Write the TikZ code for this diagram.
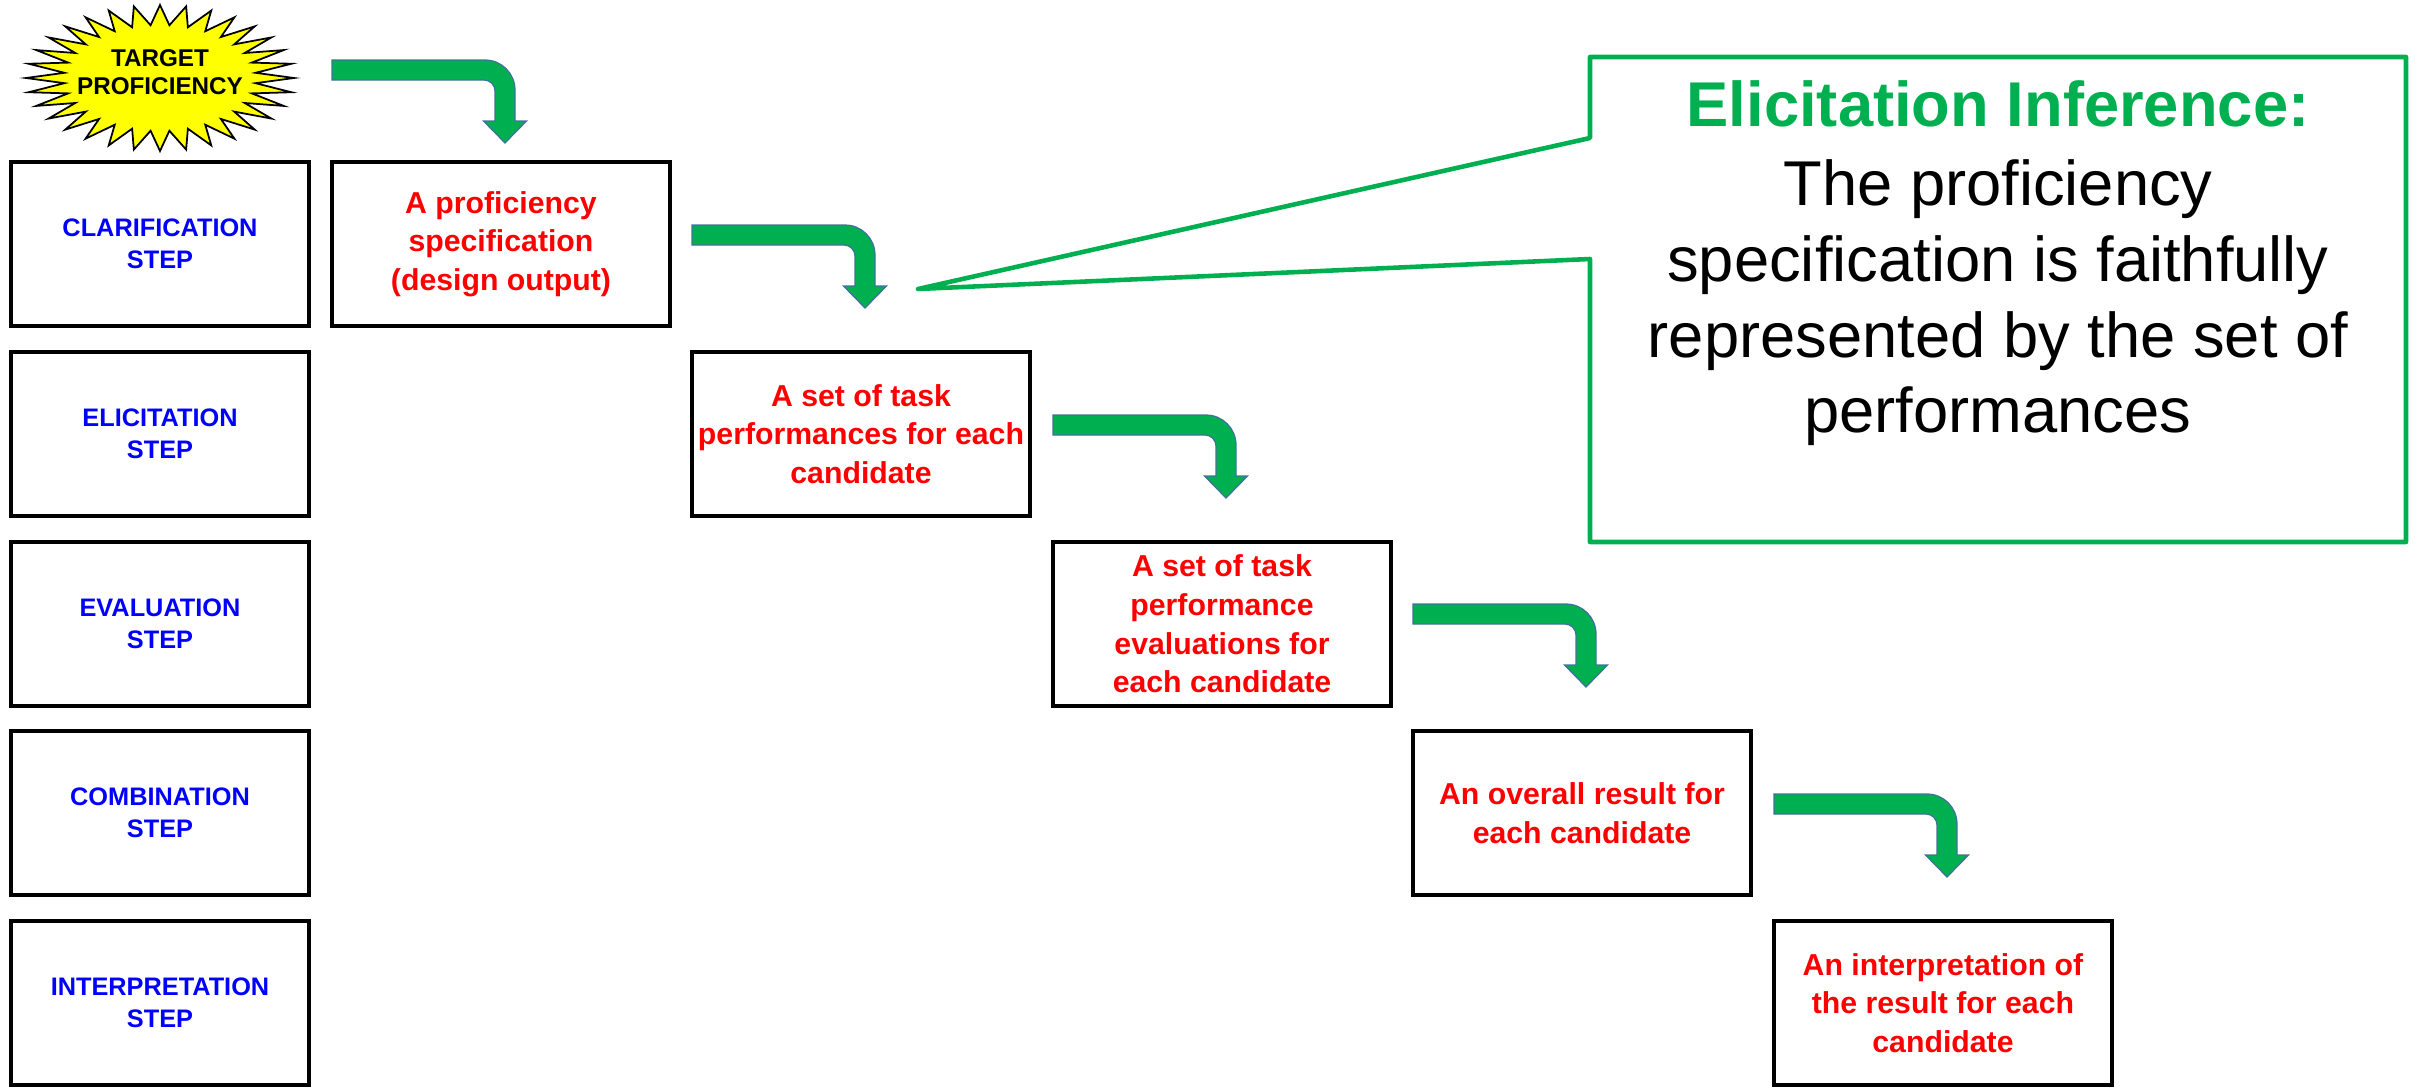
\documentclass[tikz,border=0pt]{standalone}
\usepackage{fontspec}
\setmainfont{Liberation Sans}
\usetikzlibrary{calc}

\definecolor{stepblue}{RGB}{0,0,255}
\definecolor{outred}{RGB}{255,0,0}
\definecolor{flowgreen}{RGB}{0,176,80}
\definecolor{flowedge}{RGB}{65,113,156}
\definecolor{burstyellow}{RGB}{255,255,0}

\begin{document}
\begin{tikzpicture}[x=0.01cm, y=-0.01cm,
  stepbox/.style={draw=black, line width=1.1pt, minimum width=2.98cm,
    minimum height=1.64cm, inner sep=0pt, align=center, text=stepblue,
    font=\fontsize{7.2}{9.2}\selectfont\bfseries},
  outbox/.style={draw=black, line width=1.1pt, minimum width=3.38cm,
    minimum height=1.64cm, inner sep=0pt, align=center, text=outred,
    font=\fontsize{8.6}{11}\selectfont\bfseries},
  bent/.style={fill=flowgreen, draw=flowedge, line width=0.35pt},
  callout/.style={draw=flowgreen, line width=1.3pt, line join=round},
  bentarrow/.pic={
    % bent block arrow, origin at the arrow tip
    \path[bent] (-173,-83) -- (-20,-83)
      .. controls (-3.4,-83) and (10,-69.6) .. (10,-53)
      -- (10,-22) -- (21.5,-22) -- (0,0) -- (-21.5,-22) -- (-10,-22)
      -- (-10,-52) .. controls (-10,-58) and (-15,-63) .. (-21,-63)
      -- (-173,-63) -- cycle;
  }]

\useasboundingbox (0,0) rectangle (2420,1088);

% starburst
\coordinate (burstc) at (160,78);
\draw[fill=burstyellow, line width=0.5pt, line join=miter]
  ($(burstc)+(90:134 and 73)$)
  \foreach \k [evaluate=\k as \rx using {ifthenelse(mod(\k,2)==0,134,96)},
               evaluate=\k as \ry using {ifthenelse(mod(\k,2)==0,73,53)}]
    in {1,...,63} { -- ($(burstc)+({90+\k*5.625}:{\rx} and {\ry})$) } -- cycle;
\node[align=center, font=\fontsize{6.9}{8}\selectfont\bfseries] (target)
  at (160,72) {TARGET\\PROFICIENCY};

% step column
\node[stepbox] (s1) at (160,244)  {CLARIFICATION\\STEP};
\node[stepbox] (s2) at (160,434)  {ELICITATION\\STEP};
\node[stepbox] (s3) at (160,624)  {EVALUATION\\STEP};
\node[stepbox] (s4) at (160,813)  {COMBINATION\\STEP};
\node[stepbox] (s5) at (160,1003) {INTERPRETATION\\STEP};

% outputs of each step
\node[outbox] (o1) at (501,244)  {A proficiency\\specification\\(design output)};
\node[outbox] (o2) at (861,434)  {A set of task\\performances for each\\candidate};
\node[outbox] (o3) at (1222,624) {A set of task\\performance\\evaluations for\\each candidate};
\node[outbox] (o4) at (1582,813) {An overall result for\\each candidate};
\node[outbox] (o5) at (1943,1003){An interpretation of\\the result for each\\candidate};

% bent arrows leading into each output
\pic at ($(o1.north)+(4,-17)$) {bentarrow};
\pic at ($(o2.north)+(4,-42)$) {bentarrow};
\pic at ($(o3.north)+(4,-42)$) {bentarrow};
\pic at ($(o4.north)+(4,-42)$) {bentarrow};
\pic at ($(o5.north)+(4,-42)$) {bentarrow};

% callout
\coordinate (cTL) at (1590,57);
\coordinate (cTR) at (2406,57);
\coordinate (cBR) at (2406,542);
\coordinate (cBL) at (1590,542);
\coordinate (cJa) at (1590,138);
\coordinate (cJb) at (1590,259);
\coordinate (cTip) at (918,289);
\draw[callout] (cTL) -- (cTR) -- (cBR) -- (cBL) -- (cJb) -- (cTip) -- (cJa) -- cycle;
\node[align=center, font=\fontsize{18}{21.5}\selectfont] (inference) at (1998,263)
  {\textcolor{flowgreen}{\bfseries Elicitation Inference:}\\[1.2pt]
   The proficiency\\specification is faithfully\\represented by the set of\\performances};

\end{tikzpicture}
\end{document}
